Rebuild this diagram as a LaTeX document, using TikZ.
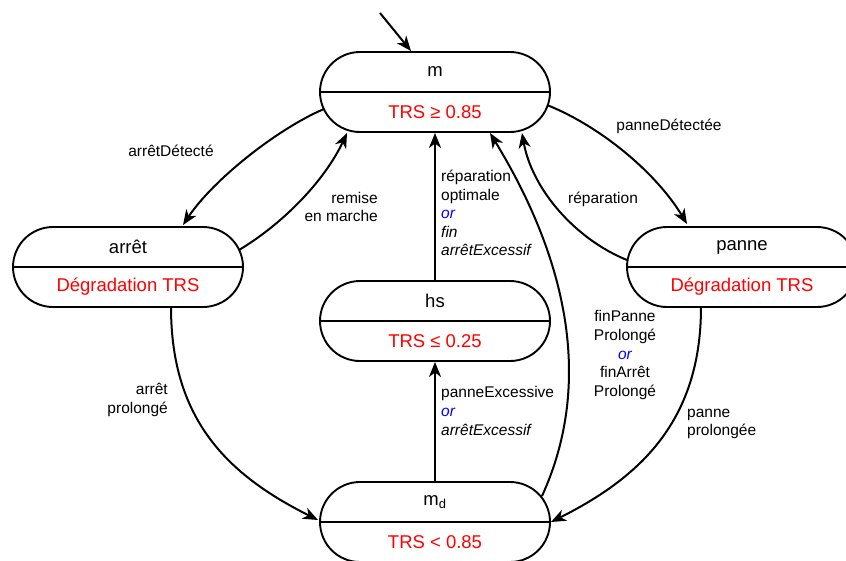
\documentclass[tikz,border=0pt]{standalone}
\usepackage{fontspec}
\setmainfont{Liberation Sans}
\usetikzlibrary{arrows.meta,calc}
\definecolor{trsred}{RGB}{255,0,0}
\definecolor{orblue}{RGB}{0,0,255}
\begin{document}
\begin{tikzpicture}[x=1pt,y=-1pt,
  statebox/.style={draw, line width=1.9pt, rounded corners=40pt, minimum width=230pt, minimum height=80pt, inner sep=0pt},
  divider/.style={line width=1.9pt},
  stname/.style={font=\fontsize{18.5}{22}\selectfont, inner sep=0pt},
  stcond/.style={font=\fontsize{18.5}{22}\selectfont, text=trsred, inner sep=0pt},
  lbl/.style={font=\fontsize{15.5}{18.6}\selectfont, inner sep=0pt},
  conn/.style={line width=2pt, -{Stealth[length=15pt,width=12pt,inset=4.5pt]}}
]
\useasboundingbox (0,0) rectangle (846,560);

% states
\node[statebox] (m) at (435,92) {};
\node[statebox] (arret) at (128,267) {};
\node[statebox] (panne) at (742,267) {};
\node[statebox] (hs) at (435,321) {};
\node[statebox] (md) at (435,522) {};

\foreach \s in {m,arret,panne,hs,md}{\draw[divider] (\s.west) -- (\s.east);}

\node[stname] (m-n) at ($(m.center)+(0,-20)$) {m};
\node[stcond] (m-c) at ($(m.center)+(0,20)$) {TRS ≥ 0.85};
\node[stname] (arret-n) at ($(arret.center)+(0,-20)$) {arrêt};
\node[stcond] (arret-c) at ($(arret.center)+(0,20)$) {Dégradation TRS};
\node[stname] (panne-n) at ($(panne.center)+(0,-20)$) {panne};
\node[stcond] (panne-c) at ($(panne.center)+(0,20)$) {Dégradation TRS};
\node[stname] (hs-n) at ($(hs.center)+(0,-20)$) {hs};
\node[stcond] (hs-c) at ($(hs.center)+(0,20)$) {TRS ≤ 0.25};
\node[stname] (md-n) at ($(md.center)+(0,-20)$) {m\textsubscript{d}};
\node[stcond] (md-c) at ($(md.center)+(0,20)$) {TRS < 0.85};

% initial arrow
\coordinate (init) at (380,13);
\draw[conn] (init) -- ($(m.center)+(-24,-41)$);

% m -> arret
\draw[conn] ($(m.center)+(-111,17)$) .. controls +(-47,20) and +(30,-45) .. ($(arret.center)+(55,-42)$);
% arret -> m
\draw[conn] ($(arret.center)+(111,-17)$) .. controls +(45,-27) and +(-22,47) .. ($(m.center)+(-88,41)$);
% m -> panne
\draw[conn] ($(m.center)+(112,13)$) .. controls +(55,22) and +(-30,-50) .. ($(panne.center)+(-55,-43)$);
% panne -> m
\draw[conn] ($(panne.center)+(-115,-7)$) .. controls +(-52,-21) and +(10,56) .. ($(m.center)+(87,41)$);
% hs -> m
\draw[conn] (hs.north) -- (m.south);
% md -> m
\draw[conn] ($(md.center)+(107,-26)$) .. controls +(53,-116) and +(75,123) .. ($(m.center)+(55,41)$);
% md -> hs
\draw[conn] (md.north) -- (hs.south);
% arret -> md
\draw[conn] ($(arret.center)+(43,40)$) .. controls +(0,113) and +(-90,-45) .. ($(md.center)+(-117,-2)$);
% panne -> md
\draw[conn] ($(panne.center)+(-41,40)$) .. controls +(0,113) and +(90,-45) .. ($(md.center)+(116,0)$);

% labels
\node[lbl] (l1) at (171,151) {arrêtDétecté};
\node[lbl, align=right, anchor=east] (l2) at (378,207) {remise\\en marche};
\node[lbl] (l3) at (669,126) {panneDétectée};
\node[lbl] (l4) at (603,199) {réparation};
\node[lbl, align=left, anchor=west] (l5) at (441,213) {réparation\\optimale\\{\color{orblue}\itshape or}\\{\itshape fin}\\{\itshape arrêtExcessif}};
\node[lbl, align=left, anchor=west] (l6) at (441,411) {panneExcessive\\{\color{orblue}\itshape or}\\{\itshape arrêtExcessif}};
\node[lbl, align=center] (l7) at (625,355) {finPanne\\Prolongé\\{\color{orblue}\itshape or}\\finArrêt\\Prolongé};
\node[lbl, align=left, anchor=west] (l8) at (687,424) {panne\\prolongée};
\node[lbl, align=right, anchor=east] (l9) at (168,400) {arrêt\\prolongé};
\end{tikzpicture}
\end{document}
